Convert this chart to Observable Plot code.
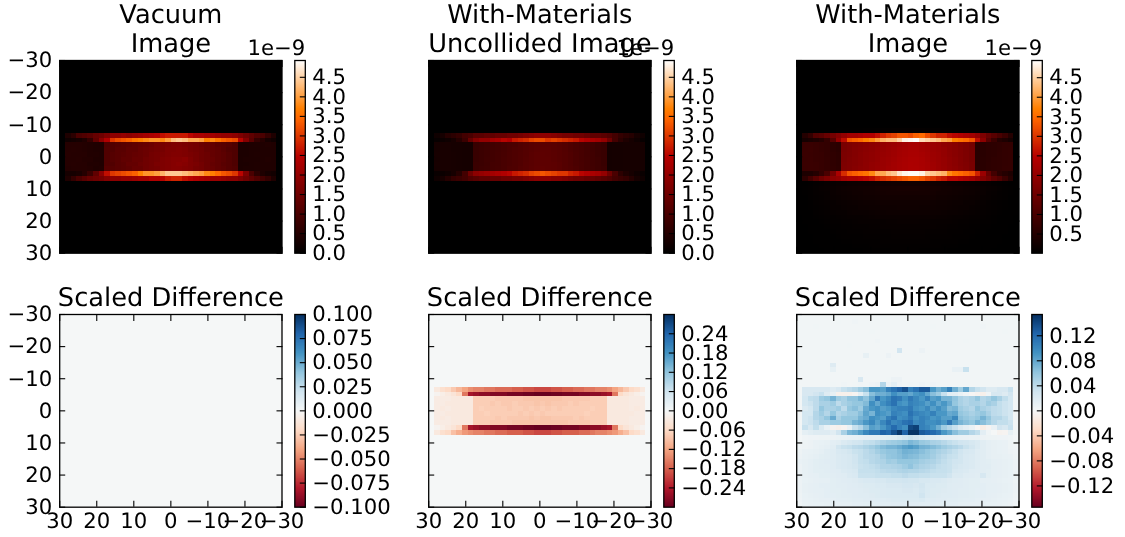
<!DOCTYPE html>
<html>
<head>
<meta charset="utf-8">
<script src="https://cdn.jsdelivr.net/npm/d3@7"></script>
<script src="https://cdn.jsdelivr.net/npm/@observablehq/plot@0.6"></script>
<style>
html,body{margin:0;padding:0;background:#fff;}
#chart{position:relative;width:1125px;height:537px;overflow:hidden;filter:blur(0.35px);}
#chart svg{position:absolute;background:transparent;overflow:visible;text-rendering:geometricPrecision;}
</style>
</head>
<body>
<div id="chart"></div>
<script>
const blank = [0,0,0,0,0,0,0,0,0,0,0,0,0,0,0,0,0,0,0,0,0,0,0,0,0,0,0,0,0,0,0,0,0,0,0,0,0,0,0,0];

// Images, in units of 1e-9. Rows run from y = -30 down to y = 30, columns from x = 30 to x = -30.
const vacuumBand = [
[0,.4,.6,1.0,1.1,1.2,1.4,1.5,1.7,1.9,1.9,2.0,1.9,2.0,2.1,2.2,2.3,2.4,2.6,2.7,2.7,2.7,2.7,2.5,2.3,2.3,2.2,2.2,2.1,2.0,2.0,1.9,1.7,1.5,1.3,1.1,1.0,.7,.4,0],
[0,.2,.25,.3,.4,.7,1.3,1.9,2.4,3.0,3.2,3.3,3.4,3.6,3.7,3.8,3.9,3.9,3.8,4.0,4.3,4.4,4.3,4.1,4.1,4.0,3.7,3.8,3.6,3.4,3.3,3.2,2.5,1.8,1.2,.7,.5,.3,.2,0],
[0,.5,.5,.5,.48,.45,.42,.4,1.05,1.1,1.15,1.2,1.25,1.3,1.35,1.4,1.45,1.55,1.6,1.65,1.7,1.7,1.65,1.6,1.55,1.45,1.4,1.35,1.25,1.2,1.15,1.05,.38,.38,.4,.42,.42,.45,.42,0],
[0,.5,.52,.5,.48,.45,.42,.42,1.1,1.1,1.2,1.2,1.3,1.3,1.4,1.45,1.5,1.55,1.6,1.7,1.7,1.75,1.7,1.6,1.55,1.5,1.4,1.35,1.3,1.2,1.1,1.05,.38,.38,.4,.4,.42,.42,.42,0],
[0,.52,.5,.5,.5,.45,.44,.42,1.1,1.15,1.2,1.25,1.3,1.35,1.4,1.45,1.55,1.6,1.65,1.7,1.75,1.75,1.7,1.65,1.6,1.5,1.45,1.35,1.3,1.25,1.15,1.05,.38,.38,.4,.42,.42,.42,.42,0],
[0,.5,.5,.52,.48,.48,.42,.42,1.1,1.15,1.2,1.3,1.3,1.4,1.4,1.5,1.55,1.6,1.7,1.75,1.8,1.8,1.85,1.7,1.6,1.5,1.45,1.4,1.3,1.25,1.15,1.05,.38,.4,.4,.4,.42,.45,.42,0],
[0,.5,.52,.5,.5,.45,.44,.42,1.1,1.1,1.2,1.25,1.35,1.35,1.45,1.5,1.55,1.65,1.7,1.75,1.8,1.85,1.8,1.7,1.65,1.55,1.45,1.35,1.3,1.2,1.15,1.05,.38,.38,.4,.42,.42,.42,.42,0],
[0,.48,.5,.5,.5,.48,.42,.44,1.15,1.15,1.2,1.25,1.3,1.4,1.4,1.5,1.55,1.6,1.7,1.75,1.8,1.8,1.75,1.7,1.6,1.55,1.45,1.4,1.3,1.25,1.15,1.1,.38,.4,.4,.42,.42,.42,.42,0],
[0,.3,.3,.35,.5,.8,1.3,1.9,2.6,3.0,3.1,3.2,3.3,3.4,3.7,3.9,3.9,4.0,4.2,4.4,4.4,4.4,4.3,4.2,4.1,4.0,3.8,3.7,3.5,3.3,3.2,3.0,2.5,1.7,1.0,.6,.4,.3,.25,0],
[0,.4,.7,1.0,1.2,1.4,1.5,1.6,1.8,1.9,1.9,2.0,2.0,2.1,2.2,2.2,2.4,2.4,2.5,2.7,2.8,2.8,2.6,2.5,2.4,2.3,2.2,2.1,2.1,2.0,1.9,1.9,1.7,1.5,1.3,1.1,.9,.7,.4,0]
];
const uncollidedBand = [
[0,.2,.3,.5,.6,.7,.9,1.0,1.2,1.2,1.3,1.3,1.4,1.4,1.5,1.5,1.6,1.7,1.8,1.9,1.9,1.9,1.8,1.7,1.6,1.6,1.5,1.5,1.4,1.3,1.3,1.2,1.1,.9,.7,.6,.5,.3,.2,0],
[0,.1,.15,.2,.3,.5,.8,1.4,1.8,2.0,2.0,2.2,2.3,2.5,2.4,2.7,2.8,2.9,3.1,3.2,3.2,3.0,3.1,3.0,2.9,2.8,2.7,2.5,2.4,2.3,2.2,2.0,1.5,.9,.6,.4,.3,.2,.1,0],
[0,.3,.32,.32,.3,.3,.28,.28,.75,.78,.82,.86,.9,.95,1.0,1.02,1.08,1.12,1.18,1.2,1.22,1.22,1.2,1.16,1.12,1.05,1.0,.95,.9,.86,.8,.75,.27,.28,.28,.3,.3,.3,.28,0],
[0,.3,.32,.32,.3,.3,.28,.28,.76,.8,.84,.88,.9,.95,1.0,1.05,1.08,1.14,1.18,1.22,1.24,1.24,1.2,1.18,1.12,1.06,1.0,.96,.9,.85,.8,.76,.27,.28,.28,.3,.3,.3,.28,0],
[0,.31,.32,.32,.31,.3,.28,.28,.76,.8,.84,.88,.92,.96,1.02,1.05,1.1,1.14,1.2,1.24,1.26,1.25,1.22,1.18,1.14,1.08,1.02,.96,.9,.86,.8,.76,.27,.28,.28,.3,.3,.3,.28,0],
[0,.3,.32,.33,.31,.3,.28,.28,.76,.8,.85,.88,.92,.98,1.02,1.06,1.1,1.15,1.2,1.25,1.26,1.26,1.22,1.18,1.14,1.08,1.02,.96,.92,.86,.82,.76,.27,.28,.28,.3,.3,.3,.28,0],
[0,.31,.32,.32,.31,.3,.29,.28,.78,.8,.84,.9,.92,.98,1.02,1.06,1.1,1.16,1.2,1.25,1.26,1.26,1.24,1.2,1.14,1.08,1.02,.98,.92,.86,.82,.76,.27,.28,.28,.3,.3,.3,.28,0],
[0,.3,.32,.32,.31,.3,.28,.28,.78,.82,.85,.9,.94,.98,1.04,1.06,1.12,1.16,1.22,1.26,1.28,1.26,1.24,1.2,1.14,1.1,1.04,.98,.92,.88,.82,.78,.27,.28,.28,.3,.3,.3,.28,0],
[0,.12,.15,.2,.3,.5,.9,1.5,1.9,2.0,2.1,2.2,2.3,2.4,2.5,2.7,2.8,2.9,3.1,3.2,3.3,3.2,3.1,3.0,3.0,2.8,2.7,2.5,2.4,2.3,2.2,2.0,1.5,1.0,.6,.4,.3,.2,.12,0],
[0,.2,.3,.5,.7,.8,.9,1.1,1.2,1.3,1.3,1.4,1.4,1.5,1.5,1.6,1.6,1.7,1.8,1.9,1.9,1.9,1.8,1.8,1.7,1.6,1.5,1.5,1.4,1.4,1.3,1.2,1.1,.9,.8,.7,.5,.3,.2,0]
];
const materialsTop = [0,0,0,0,0,.01,.01,.02,.02,.02,.03,.03,.04,.04,.05,.05,.05,.06,.06,.06,.06,.06,.06,.05,.05,.05,.04,.04,.03,.03,.02,.02,.02,.01,.01,0,0,0,0,0];
const materialsBand = [
[0,.5,.7,1.1,1.2,1.4,1.6,1.8,2.0,2.2,2.2,2.3,2.4,2.4,2.6,2.8,3.0,3.1,3.3,3.3,3.2,3.4,3.5,3.2,3.0,2.8,2.8,2.6,2.5,2.4,2.3,2.2,2.0,1.7,1.4,1.2,1.0,.8,.5,0],
[0,.3,.35,.4,.5,.7,1.2,2.0,2.6,3.3,3.4,3.5,3.7,3.8,4.0,4.2,4.3,4.3,4.5,4.8,4.85,4.9,4.6,4.5,4.4,4.3,4.1,4.0,3.7,3.6,3.5,3.3,2.6,1.9,1.2,.8,.5,.4,.3,0],
[0,.78,.78,.75,.72,.68,.62,.58,1.65,1.7,1.75,1.8,1.85,1.9,1.95,2.0,2.05,2.1,2.15,2.2,2.25,2.25,2.2,2.15,2.1,2.05,1.95,1.9,1.85,1.75,1.7,1.6,.55,.56,.6,.62,.65,.68,.68,0],
[0,.78,.8,.75,.72,.68,.62,.58,1.65,1.7,1.78,1.82,1.88,1.92,1.98,2.02,2.08,2.14,2.2,2.24,2.28,2.28,2.22,2.18,2.1,2.05,2.0,1.9,1.85,1.78,1.7,1.62,.55,.56,.6,.62,.65,.68,.7,0],
[0,.8,.78,.76,.74,.68,.64,.6,1.68,1.72,1.78,1.85,1.9,1.95,2.0,2.05,2.1,2.15,2.22,2.26,2.3,2.3,2.25,2.2,2.12,2.08,2.0,1.92,1.85,1.78,1.72,1.62,.56,.56,.6,.62,.66,.68,.7,0],
[0,.78,.8,.76,.74,.7,.64,.6,1.68,1.74,1.8,1.85,1.9,1.95,2.0,2.08,2.12,2.18,2.24,2.28,2.32,2.32,2.28,2.22,2.14,2.08,2.02,1.95,1.88,1.8,1.72,1.62,.56,.58,.6,.64,.66,.68,.7,0],
[0,.8,.8,.78,.74,.7,.64,.6,1.7,1.75,1.8,1.85,1.92,1.98,2.02,2.08,2.14,2.2,2.26,2.3,2.34,2.32,2.28,2.24,2.16,2.1,2.02,1.95,1.88,1.8,1.74,1.65,.56,.58,.62,.64,.66,.68,.7,0],
[0,.78,.8,.78,.74,.7,.66,.62,1.72,1.75,1.82,1.88,1.92,1.98,2.04,2.1,2.16,2.2,2.26,2.3,2.34,2.34,2.3,2.24,2.18,2.1,2.04,1.96,1.9,1.82,1.75,1.65,.58,.58,.62,.64,.66,.7,.7,0],
[0,.4,.4,.5,.7,1.0,1.6,2.3,2.9,3.3,3.4,3.5,3.6,3.8,4.1,4.1,4.3,4.4,4.7,4.85,4.9,4.9,4.8,4.5,4.4,4.3,4.2,3.8,3.6,3.5,3.4,3.3,2.8,2.1,1.4,.9,.6,.5,.4,0],
[0,.6,.9,1.2,1.5,1.7,1.9,2.0,2.2,2.3,2.3,2.4,2.5,2.6,2.8,2.9,3.0,3.1,3.2,3.3,3.4,3.4,3.3,3.1,3.0,2.8,2.7,2.5,2.5,2.4,2.3,2.2,2.0,1.8,1.6,1.3,1.1,.8,.5,0]
];
const materialsGlow = [
[.02,.02,.04,.06,.08,.1,.12,.14,.15,.17,.18,.2,.2,.21,.23,.23,.24,.25,.26,.26,.26,.26,.26,.25,.24,.23,.22,.2,.19,.17,.16,.14,.13,.11,.09,.07,.05,.04,.02,.02],
[.02,.04,.05,.08,.1,.12,.15,.17,.2,.21,.23,.24,.26,.26,.28,.29,.3,.31,.32,.32,.32,.32,.31,.3,.29,.28,.26,.25,.23,.22,.2,.19,.17,.14,.12,.1,.08,.05,.04,.02],
[.02,.04,.05,.08,.09,.11,.14,.17,.19,.2,.22,.23,.25,.26,.27,.28,.29,.29,.3,.3,.3,.3,.29,.29,.28,.26,.26,.24,.23,.21,.2,.18,.16,.14,.11,.09,.07,.05,.04,.02],
[.02,.03,.05,.07,.08,.11,.13,.15,.17,.18,.2,.21,.22,.23,.24,.25,.26,.26,.26,.26,.26,.26,.26,.26,.25,.23,.23,.21,.2,.19,.17,.16,.14,.12,.1,.08,.06,.05,.03,.02],
[.02,.03,.04,.06,.08,.09,.11,.13,.14,.16,.17,.18,.2,.2,.21,.22,.22,.23,.23,.23,.23,.23,.23,.22,.21,.2,.2,.19,.17,.17,.15,.14,.12,.1,.08,.07,.05,.04,.03,.02],
[.02,.02,.04,.05,.07,.08,.1,.11,.13,.14,.15,.17,.17,.18,.19,.2,.2,.2,.21,.21,.21,.21,.2,.2,.2,.19,.18,.17,.16,.14,.14,.12,.11,.09,.08,.06,.05,.04,.02,.02],
[.02,.02,.03,.05,.06,.08,.09,.1,.11,.13,.14,.14,.15,.16,.17,.17,.18,.18,.19,.19,.19,.19,.18,.18,.17,.17,.16,.15,.14,.13,.12,.11,.09,.08,.07,.05,.04,.03,.02,.02],
[.01,.02,.02,.04,.05,.06,.07,.08,.09,.1,.11,.11,.12,.13,.14,.14,.14,.14,.15,.15,.15,.15,.14,.14,.14,.13,.13,.12,.11,.11,.09,.08,.08,.06,.05,.04,.03,.02,.02,.01],
[.01,.02,.02,.03,.04,.05,.06,.07,.08,.08,.09,.1,.11,.11,.11,.11,.12,.12,.13,.13,.13,.13,.12,.12,.11,.11,.11,.1,.09,.08,.08,.07,.06,.05,.05,.04,.02,.02,.02,.01],
[.01,.01,.02,.02,.03,.04,.05,.05,.06,.07,.08,.08,.08,.09,.09,.1,.1,.11,.11,.11,.11,.11,.11,.1,.1,.09,.09,.08,.08,.07,.06,.05,.05,.04,.04,.03,.02,.02,.01,.01],
[.01,.01,.02,.02,.02,.03,.04,.05,.05,.06,.06,.07,.08,.08,.08,.08,.08,.09,.09,.09,.09,.09,.09,.08,.08,.08,.08,.07,.07,.06,.05,.05,.04,.04,.03,.02,.02,.02,.01,.01],
[.01,.01,.01,.02,.02,.02,.03,.04,.05,.05,.05,.05,.06,.06,.07,.07,.07,.08,.08,.08,.08,.08,.08,.07,.07,.07,.06,.06,.05,.05,.05,.04,.03,.03,.02,.02,.02,.01,.01,.01],
[.01,.01,.01,.02,.02,.02,.02,.03,.04,.04,.05,.05,.05,.05,.05,.06,.06,.06,.06,.06,.06,.06,.06,.06,.05,.05,.05,.05,.05,.04,.04,.03,.03,.02,.02,.02,.02,.01,.01,.01],
[0,.01,.01,.01,.02,.02,.02,.02,.03,.03,.04,.04,.04,.05,.05,.05,.05,.05,.05,.05,.05,.05,.05,.05,.05,.05,.04,.04,.04,.03,.03,.02,.02,.02,.02,.02,.01,.01,.01,0],
[0,.01,.01,.01,.01,.02,.02,.02,.02,.03,.03,.03,.04,.04,.04,.04,.04,.05,.05,.05,.05,.05,.04,.04,.04,.04,.04,.03,.03,.03,.02,.02,.02,.02,.02,.01,.01,.01,.01,0]
];

// Scaled differences. The vacuum panel is zero everywhere.
const uncollidedDiffBand = [
[0,-.03,-.05,-.06,-.08,-.1,-.12,-.14,-.15,-.15,-.16,-.16,-.17,-.17,-.17,-.18,-.18,-.19,-.19,-.2,-.2,-.2,-.19,-.19,-.18,-.18,-.17,-.17,-.16,-.16,-.15,-.15,-.14,-.12,-.1,-.08,-.06,-.05,-.03,0],
[0,-.01,-.02,-.03,-.04,-.06,-.16,-.25,-.26,-.27,-.27,-.28,-.28,-.28,-.29,-.29,-.29,-.295,-.295,-.3,-.3,-.3,-.295,-.295,-.29,-.29,-.29,-.28,-.28,-.27,-.27,-.26,-.25,-.16,-.06,-.04,-.03,-.02,-.01,0],
[0,-.025,-.025,-.025,-.03,-.03,-.03,-.03,-.075,-.075,-.075,-.075,-.08,-.08,-.08,-.08,-.08,-.085,-.085,-.085,-.085,-.085,-.085,-.085,-.08,-.08,-.08,-.08,-.08,-.075,-.075,-.075,-.03,-.03,-.03,-.03,-.025,-.025,-.025,0],
[0,-.025,-.025,-.03,-.03,-.03,-.03,-.03,-.075,-.075,-.075,-.08,-.075,-.08,-.08,-.075,-.08,-.08,-.08,-.085,-.08,-.085,-.08,-.08,-.08,-.075,-.08,-.075,-.075,-.075,-.075,-.075,-.03,-.03,-.03,-.03,-.025,-.025,-.025,0],
[0,-.025,-.03,-.025,-.03,-.03,-.03,-.03,-.075,-.07,-.075,-.075,-.075,-.075,-.08,-.075,-.075,-.08,-.075,-.08,-.075,-.08,-.075,-.08,-.075,-.075,-.075,-.075,-.075,-.07,-.075,-.075,-.03,-.03,-.03,-.03,-.025,-.03,-.025,0],
[0,-.025,-.025,-.03,-.03,-.03,-.03,-.03,-.075,-.075,-.07,-.075,-.075,-.075,-.075,-.075,-.08,-.075,-.08,-.075,-.08,-.075,-.075,-.075,-.075,-.075,-.075,-.075,-.07,-.075,-.075,-.075,-.03,-.03,-.03,-.03,-.03,-.025,-.025,0],
[0,-.025,-.03,-.025,-.03,-.03,-.03,-.03,-.075,-.075,-.075,-.075,-.08,-.075,-.08,-.08,-.08,-.08,-.085,-.08,-.085,-.085,-.08,-.08,-.08,-.08,-.075,-.08,-.075,-.075,-.075,-.075,-.03,-.03,-.03,-.03,-.025,-.025,-.025,0],
[0,-.025,-.025,-.025,-.03,-.03,-.03,-.03,-.075,-.075,-.075,-.08,-.08,-.08,-.08,-.085,-.085,-.085,-.085,-.085,-.085,-.085,-.085,-.085,-.085,-.08,-.08,-.08,-.08,-.075,-.075,-.075,-.03,-.03,-.03,-.03,-.025,-.025,-.025,0],
[0,-.01,-.02,-.03,-.04,-.06,-.16,-.25,-.26,-.27,-.27,-.28,-.28,-.28,-.29,-.29,-.29,-.295,-.295,-.3,-.3,-.3,-.295,-.295,-.29,-.29,-.29,-.28,-.28,-.27,-.27,-.26,-.25,-.16,-.06,-.04,-.03,-.02,-.01,0],
[0,-.03,-.05,-.06,-.09,-.11,-.13,-.14,-.15,-.15,-.16,-.16,-.17,-.17,-.18,-.18,-.18,-.19,-.19,-.2,-.2,-.2,-.19,-.19,-.18,-.18,-.18,-.17,-.17,-.16,-.15,-.15,-.14,-.13,-.11,-.09,-.06,-.05,-.03,0]
];
// Thousandths, row by row from y = -30 to y = 30.
const materialsDiff = [
[3,3,3,3,3,3,4,3,3,3,3,3,3,3,3,4,3,3,3,3,3,3,3,3,3,3,3,3,3,3,3,3,3,3,4,3,3,3,3,3],
[3,3,3,3,3,3,3,4,3,3,5,3,3,3,3,3,3,3,3,3,3,3,3,3,3,3,4,3,3,3,3,3,3,3,3,3,3,3,3,3],
[3,3,3,4,3,3,3,3,3,3,3,3,3,3,3,3,3,3,3,3,3,3,3,3,4,3,3,3,3,3,3,3,3,5,3,3,3,3,3,3],
[3,3,3,3,3,3,3,3,3,3,3,3,3,4,3,3,3,3,3,3,3,3,3,3,3,3,3,3,3,3,3,3,3,3,3,3,3,4,3,3],
[3,3,3,3,3,3,3,3,3,3,3,3,3,3,3,3,3,3,3,3,3,3,3,3,3,3,3,3,3,3,3,3,3,3,3,3,3,3,3,3],
[3,3,3,3,3,3,3,3,3,3,3,3,3,3,5,3,3,3,3,3,3,3,3,3,3,3,3,3,3,3,4,3,3,3,3,3,3,3,3,3],
[3,3,3,3,3,3,3,3,3,4,3,3,3,3,3,3,3,3,3,3,3,3,3,3,3,3,3,3,3,3,3,3,3,3,3,3,3,3,3,3],
[3,3,3,3,3,3,3,3,3,3,3,3,3,3,3,3,3,3,30,3,3,3,8,3,3,3,3,3,3,3,3,3,3,3,3,3,3,3,3,3],
[3,3,3,3,3,3,3,3,3,3,3,3,12,3,3,3,8,3,3,3,3,3,3,3,3,3,3,3,3,3,3,3,3,3,3,3,3,3,3,3],
[3,3,3,3,3,3,3,3,3,3,3,3,3,3,3,3,3,3,3,3,3,3,3,3,3,3,3,3,3,3,3,3,3,3,3,3,3,3,3,3],
[3,3,3,3,3,3,20,3,3,3,3,3,3,3,3,3,3,3,3,3,3,3,3,3,3,3,3,3,3,3,3,3,3,3,3,3,3,3,3,3],
[3,3,3,3,3,3,12,3,3,3,3,3,3,3,3,3,3,3,3,3,3,3,3,3,3,3,3,3,10,10,35,3,3,3,3,3,3,3,3,3],
[3,3,3,3,3,3,3,3,3,3,3,3,3,3,3,3,3,3,3,3,3,3,3,3,3,3,3,3,3,3,3,3,3,3,3,3,3,3,3,3],
[3,3,3,3,3,3,3,3,3,3,3,25,3,3,3,3,4,8,8,3,3,3,3,3,3,3,3,3,3,3,3,3,3,3,3,3,3,3,3,3],
[3,3,3,3,3,3,4,3,5,3,4,5,4,6,8,45,8,15,6,4,5,4,6,4,6,4,3,3,3,3,3,3,3,3,3,3,3,3,3,3],
[3,25,25,25,25,25,20,25,35,40,45,55,65,90,90,85,105,115,125,135,105,115,130,130,90,75,85,105,75,55,80,45,35,30,20,20,25,25,35,3],
[3,25,25,30,35,20,12,-8,-8,-8,-4,15,35,65,75,75,80,95,85,85,80,90,95,80,65,55,35,15,15,10,5,-2,-5,-8,5,25,25,20,30,3],
[3,28,38,40,55,60,72,55,50,62,62,72,62,80,110,90,100,115,110,95,110,100,90,105,85,90,72,72,62,50,45,50,60,45,50,60,50,38,28,3],
[3,28,33,40,50,50,55,40,50,55,60,60,68,95,80,95,105,115,95,90,105,100,95,85,95,80,90,78,60,50,45,50,50,45,55,50,38,33,28,3],
[3,22,28,40,60,50,50,55,40,60,65,55,78,90,95,85,90,100,105,105,110,95,90,100,85,95,85,68,72,55,50,45,60,50,45,40,38,33,28,3],
[3,28,28,45,55,45,60,45,50,55,55,65,82,72,95,90,85,105,100,95,115,105,100,95,105,90,90,78,82,60,55,50,55,60,50,40,38,33,28,3],
[3,28,33,45,50,60,78,50,60,60,60,72,78,95,90,85,105,115,95,100,110,95,105,100,90,95,85,85,100,65,60,55,60,72,60,45,45,38,28,3],
[3,28,33,40,50,50,55,55,60,60,72,78,90,100,85,100,115,100,105,115,120,100,105,95,95,100,90,110,85,72,65,60,72,65,55,45,38,38,33,3],
[3,35,25,38,22,10,-5,-8,-4,10,35,45,65,85,80,90,105,120,105,95,140,145,105,100,90,75,55,45,35,22,15,10,-2,-10,-4,10,30,25,35,3],
[3,14,17,20,20,20,17,30,50,70,75,85,100,110,110,125,120,135,150,125,152,152,130,125,120,110,90,80,65,55,55,45,38,15,5,0,-5,-4,12,3],
[2,5,6,6,7,7,8,9,9,10,11,12,13,13,14,15,17,19,24,30,34,30,24,20,17,15,14,13,12,11,10,9,9,8,7,7,6,6,5,2],
[4,7,8,10,11,12,15,17,22,26,29,31,36,38,43,48,53,55,58,62,70,66,58,55,50,48,43,38,34,31,29,26,22,17,14,12,11,10,7,4],
[5,7,8,10,12,14,17,29,34,36,41,43,48,53,60,67,72,72,77,84,89,84,74,72,67,62,55,50,46,41,34,29,22,17,14,12,11,10,7,5],
[7,10,11,12,14,17,19,24,26,29,34,36,41,46,53,58,62,62,67,74,72,70,65,60,55,50,46,41,36,31,26,24,19,17,14,12,11,10,8,6],
[8,11,12,14,16,17,19,22,24,26,31,36,41,43,46,53,60,62,65,70,67,65,60,58,53,46,41,36,34,29,24,22,19,17,14,12,12,11,10,7],
[10,12,14,16,17,18,19,22,24,26,31,36,38,43,46,48,55,53,60,60,60,58,53,50,48,43,38,34,31,29,24,22,19,17,16,14,13,12,11,8],
[8,12,14,16,17,17,19,22,24,26,29,34,36,38,41,46,46,48,50,55,62,53,48,46,43,38,36,34,29,26,24,22,19,17,17,14,13,12,11,8],
[8,12,14,16,16,17,18,19,22,24,26,36,36,36,38,41,43,43,46,48,46,46,43,41,38,36,36,34,26,24,22,19,18,17,16,14,13,12,11,8],
[8,12,13,14,16,16,17,18,19,22,24,34,34,34,36,36,36,38,38,41,38,38,36,36,34,34,34,31,22,22,19,18,17,26,16,14,13,12,11,8],
[8,11,12,13,14,14,16,17,18,19,20,22,24,24,26,26,29,29,29,31,29,29,26,26,24,24,22,20,19,18,17,16,16,14,14,13,12,11,10,7],
[8,12,13,14,15,15,16,17,17,18,19,20,21,21,23,23,25,25,25,27,27,25,29,23,23,21,21,19,18,18,17,16,16,15,14,14,13,12,11,8],
[8,12,13,14,14,15,16,16,17,18,18,19,20,21,21,22,23,23,23,25,25,23,27,23,21,21,20,19,18,17,17,16,15,15,14,14,13,12,11,8],
[7,11,12,13,14,15,15,16,17,17,18,19,19,20,21,22,23,23,23,23,23,23,31,22,21,20,19,19,18,17,17,16,15,15,14,13,12,11,10,7],
[6,10,11,12,13,13,14,15,15,16,17,17,18,18,19,19,20,21,21,21,21,21,23,19,19,18,18,17,17,16,15,15,14,13,13,12,11,10,9,6],
[5,9,10,11,11,12,13,13,14,14,15,15,16,16,17,17,17,18,18,18,18,18,17,17,17,16,16,15,15,14,14,13,13,12,11,11,10,9,8,5]
];

const blanks = n => Array.from({length: n}, () => blank);
const vacuumImage = [...blanks(15), ...vacuumBand, ...blanks(15)].flat();
const uncollidedImage = [...blanks(15), ...uncollidedBand, ...blanks(15)].flat();
const materialsImage = [...blanks(14), materialsTop, ...materialsBand, ...materialsGlow].flat();
const vacuumDiff = blanks(40).flat();
const uncollidedDiff = [...blanks(15), ...uncollidedDiffBand, ...blanks(15)].flat();
const materialsDiffFlat = materialsDiff.flat().map(v => v / 1000);

const gistHeat = t => `rgb(${Math.round(255*Math.min(1,t/.7))},${Math.round(255*Math.max(0,2*t-1))},${Math.round(255*Math.max(0,4*t-3))})`;
const rdBuStops = ["#67001f","#b2182b","#d6604d","#f4a582","#fddbc7","#f5f7f7","#d1e5f0","#92c5de","#4393c3","#2166ac","#053061"];
const rdBu = d3.piecewise(d3.interpolateRgb, rdBuStops);

const positionTicks = [-30,-20,-10,0,10,20,30];
const font = "'DejaVu Sans'";
const labelSize = 21.2;
const tickLen = 6;
const lineW = 1.3;

const panels = [
  {title:"Vacuum\nImage", values:vacuumImage, domain:[0,4.93], interp:gistHeat, ticks:[0,.5,1,1.5,2,2.5,3,3.5,4,4.5], fmt:".1f", mult:"1e−9", col:0, row:0},
  {title:"With-Materials\nUncollided Image", values:uncollidedImage, domain:[0,4.93], interp:gistHeat, ticks:[0,.5,1,1.5,2,2.5,3,3.5,4,4.5], fmt:".1f", mult:"1e−9", col:1, row:0},
  {title:"With-Materials\nImage", values:materialsImage, domain:[.01,4.94], interp:gistHeat, ticks:[.5,1,1.5,2,2.5,3,3.5,4,4.5], fmt:".1f", mult:"1e−9", col:2, row:0},
  {title:"Scaled Difference", values:vacuumDiff, domain:[-.1,.1], interp:rdBu, ticks:[-.1,-.075,-.05,-.025,0,.025,.05,.075,.1], fmt:".3f", col:0, row:1},
  {title:"Scaled Difference", values:uncollidedDiff, domain:[-.3,.3], interp:rdBu, ticks:[-.24,-.18,-.12,-.06,0,.06,.12,.18,.24], fmt:".2f", col:1, row:1},
  {title:"Scaled Difference", values:materialsDiffFlat, domain:[-.154,.154], interp:rdBu, ticks:[-.12,-.08,-.04,0,.04,.08,.12], fmt:".2f", col:2, row:1}
];

const chart = document.getElementById("chart");
const posFmt = d3.format("d");
const axesW = 222.3, axesH = 192.7;
const colStep = 368.5;
const rowTops = [60, 314];

panels.forEach(p => {
  const cellLeft = colStep * p.col;
  const svgTop = rowTops[p.row] - 60;
  const ml = 59.2, mt = 60, mb = 30;
  const w = 340, h = mt + axesH + mb;
  const mr = w - ml - axesW;
  const showY = p.col === 0, showX = p.row === 1;
  const svg = Plot.plot({
    width: w, height: h,
    marginLeft: ml, marginRight: mr, marginTop: mt, marginBottom: mb,
    style: {fontFamily: font, fontSize: labelSize + "px", color: "#000", background: "transparent", overflow: "visible"},
    x: {domain: [30, -30], range: [ml, ml + axesW], axis: null},
    y: {domain: [-30, 30], range: [mt, mt + axesH], axis: null},
    color: {type: "linear", domain: p.domain, interpolate: p.interp, clamp: true},
    marks: [
      Plot.raster(p.values, {width: 40, height: 40, x1: 30, x2: -30, y1: -30, y2: 30, fill: d => d, imageRendering: "pixelated"}),
      Plot.axisX({anchor: "bottom", ticks: positionTicks, tickSize: -tickLen, strokeWidth: 1.1, stroke: "#000", label: null,
        tickPadding: tickLen + 6, tickFormat: showX ? posFmt : () => "", fontSize: labelSize}),
      Plot.axisX({anchor: "top", ticks: positionTicks, tickSize: -tickLen, strokeWidth: 1.1, stroke: "#000", label: null, tickFormat: () => ""}),
      Plot.axisY({anchor: "left", ticks: positionTicks, tickSize: -tickLen, strokeWidth: 1.1, stroke: "#000", label: null,
        tickPadding: tickLen + 7.5, tickFormat: showY ? posFmt : () => "", fontSize: labelSize}),
      Plot.axisY({anchor: "right", ticks: positionTicks, tickSize: -tickLen, strokeWidth: 1.1, stroke: "#000", label: null, tickFormat: () => ""}),
      Plot.frame({stroke: "#000", strokeWidth: lineW}),
      Plot.text([p.title], {frameAnchor: "top", lineAnchor: "bottom", dy: -8.5, fontSize: 25.7, lineHeight: 1.11, fill: "#000", text: d => d})
    ]
  });
  svg.style.left = cellLeft + "px";
  svg.style.top = svgTop + "px";
  chart.appendChild(svg);

  // Colorbar
  const bl = 54.3, bw = 10.5, cw = 140;
  const cb = Plot.plot({
    width: cw, height: h,
    marginLeft: bl, marginRight: cw - bl - bw, marginTop: mt, marginBottom: mb,
    style: {fontFamily: font, fontSize: labelSize + "px", color: "#000", background: "transparent", overflow: "visible"},
    x: {domain: [0, 1], axis: null},
    y: {domain: [p.domain[1], p.domain[0]], range: [mt, mt + axesH], axis: null},
    color: {type: "linear", domain: p.domain, interpolate: p.interp, clamp: true},
    marks: [
      Plot.raster({x1: 0, x2: 1, y1: p.domain[1], y2: p.domain[0], width: 1, height: 256, fill: (x, y) => y, imageRendering: "auto"}),
      Plot.axisY({anchor: "right", ticks: p.ticks, tickSize: -tickLen, strokeWidth: 1.1, stroke: "#000", label: null,
        tickPadding: tickLen + 7, tickFormat: d3.format(p.fmt), fontSize: labelSize}),
      Plot.frame({stroke: "#000", strokeWidth: lineW}),
      p.mult ? Plot.text([p.mult], {frameAnchor: "top-right", textAnchor: "end", lineAnchor: "bottom", dy: -5, fontSize: labelSize, fill: "#000", text: d => d}) : null
    ]
  });
  cb.style.left = (cellLeft + 240) + "px";
  cb.style.top = svgTop + "px";
  chart.appendChild(cb);
});
</script>
</body>
</html>
